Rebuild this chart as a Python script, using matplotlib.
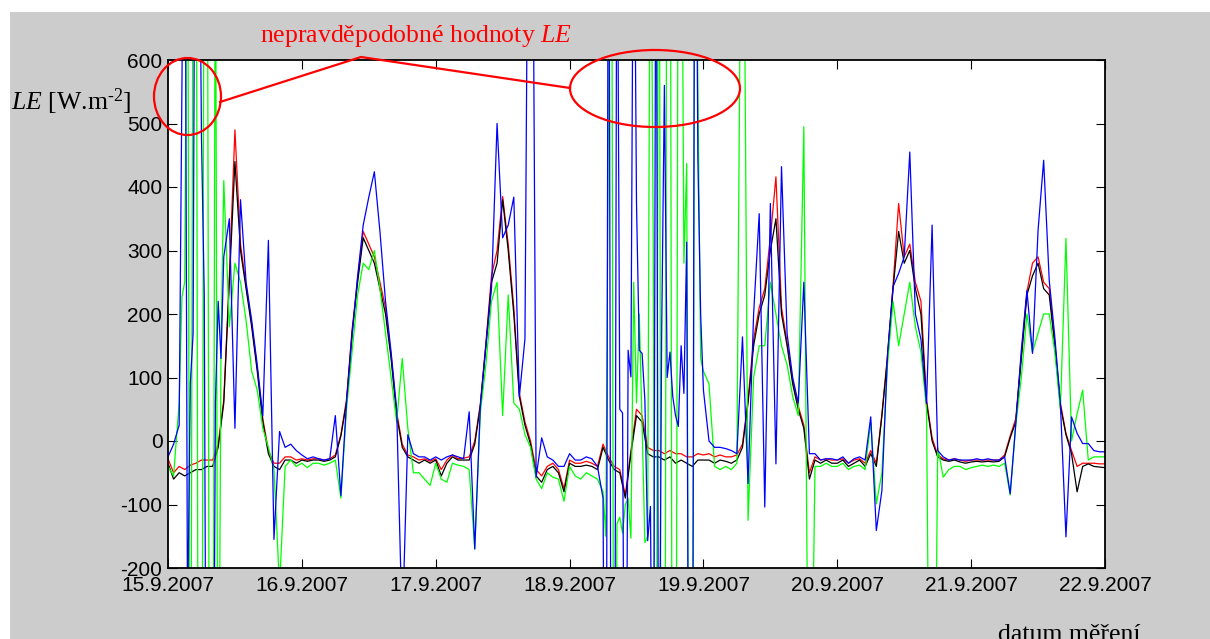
import numpy as np
import matplotlib
matplotlib.use("Agg")
import matplotlib.pyplot as plt
from matplotlib.patches import Ellipse, Rectangle

plt.rcParams['mathtext.fontset'] = 'custom'
plt.rcParams['mathtext.rm'] = 'Liberation Serif'
plt.rcParams['mathtext.it'] = 'Liberation Serif:italic'
plt.rcParams['axes.unicode_minus'] = False

# hours since 15.9.2007 00:00, one value per hour
hours = np.arange(0, 169)
day_ticks = [0, 24, 48, 72, 96, 120, 144, 168]
day_labels = ["15.9.2007", "16.9.2007", "17.9.2007", "18.9.2007",
              "19.9.2007", "20.9.2007", "21.9.2007", "22.9.2007"]

le_black = [
    -35, -60, -50, -55, -50, -45, -45, -40, -40, -10, 60, 250, 440, 300, 240, 180, 110, 30, -20, -40, -45, -30, -30, -35,
    -30, -32, -30, -30, -32, -30, -25, 8, 60, 170, 250, 320, 300, 280, 240, 200, 130, 40, -10, -25, -30, -35, -30, -35,
    -30, -55, -35, -25, -30, -30, -30, -5, 55, 150, 250, 280, 380, 300, 200, 70, 25, -5, -55, -65, -45, -40, -50, -80,
    -35, -40, -40, -38, -40, -45, -10, -30, -45, -50, -90, -20, 40, 30, -20, -25, -25, -30, -25, -35, -30, -35, -40, -30,
    -30, -30, -35, -30, -32, -35, -30, -10, 60, 150, 200, 230, 300, 350, 200, 150, 90, 50, 20, -60, -30, -35, -30, -35,
    -35, -30, -40, -35, -30, -40, -20, -40, 40, 130, 240, 330, 280, 300, 240, 200, 60, 0, -25, -30, -32, -30, -33, -35,
    -33, -32, -33, -32, -33, -32, -25, 5, 30, 130, 230, 260, 280, 240, 230, 150, 55, 10, -20, -80, -40, -36, -40, -41,
    -42]

le_red = [
    -28, -50, -40, -45, -38, -35, -30, -30, -30, -5, 65, 260, 490, 310, 245, 185, 115, 35, -15, -35, -35, -25, -25, -30,
    -28, -30, -28, -28, -30, -28, -22, 10, 65, 175, 255, 330, 310, 290, 250, 210, 135, 45, -5, -22, -25, -30, -28, -32,
    -28, -45, -30, -22, -28, -27, -25, 0, 58, 155, 260, 300, 385, 310, 210, 75, 30, 0, -45, -55, -40, -35, -45, -75,
    -30, -35, -35, -32, -35, -40, -5, -25, -40, -45, -85, -15, 50, 40, -10, -15, -15, -20, -15, -20, -20, -25, -25, -20,
    -22, -20, -25, -22, -25, -25, -22, -5, 65, 160, 210, 240, 320, 416, 210, 155, 95, 55, 25, -50, -25, -30, -28, -30,
    -30, -28, -35, -30, -28, -35, -15, -35, 42, 135, 245, 374, 290, 310, 250, 220, 65, 5, -22, -28, -30, -28, -30, -32,
    -30, -30, -30, -30, -30, -30, -22, 8, 35, 135, 235, 280, 290, 250, 240, 155, 60, 12, -15, -40, -35, -35, -35, -36,
    -36]

le_green = [
    -40, -55, 60, 250, -850, 1200, -900, 1100, -800, -700, 410, 180, 280, 250, 190, 110, 80, 20, -10, -45, -230, -40, -30, -40,
    -35, -42, -35, -35, -38, -35, -30, -90, 50, 140, 230, 280, 270, 300, 240, 170, 100, 30, 130, 20, -50, -50, -60, -70,
    -35, -60, -65, -35, -38, -40, -45, -170, 45, 120, 220, 250, 40, 230, 60, 50, 10, -10, -60, -75, -50, -57, -60, -95,
    -40, -55, -60, -50, -55, -60, -80, 537, -900, -120, -100, -153, 60, 27, -150, 313, 1300, -1000, 1200, -900, 1100, 437, -800, 566,
    110, 90, -40, -45, -40, -45, -35, 1200, -125, 100, 150, 150, 250, 200, 150, 120, 70, 40, 495, -700, -40, -40, -35, -40,
    -40, -35, -45, -40, -38, -45, 30, -99, -50, 120, 220, 150, 200, 250, 180, 140, 50, -1000, -10, -57, -45, -40, -40, -45,
    -42, -40, -38, -40, -38, -40, -35, -85, 25, 100, 200, 140, 170, 200, 200, 140, 50, 319, 0, 43, 80, -30, -25, -25,
    -25]

le_blue = [
    -25, -5, 25, 1100, 90, 1300, 480, -900, -800, 220, 290, 350, 20, 380, 250, 190, 120, 40, 316, -155, 15, -10, -5, -15,
    -22, -28, -25, -28, -30, -28, 40, -86, 60, 165, 260, 340, 384, 424, 330, 220, 140, 50, -300, 10, -20, -25, -25, -30,
    -25, -30, -25, -22, -25, -28, 46, -170, 55, 150, 240, 500, 320, 340, 384, 70, 161, 1500, -57, 5, -25, -30, -40, -40,
    -20, -30, -30, -25, -28, -40, -90, 1200, -900, 50, -800, 101, 374, 138, -157, -700, -600, 560, 140, 40, 150, 313, -700, 447,
    80, 0, -10, -10, -12, -15, -20, 164, -67, 200, 358, -104, 374, -36, 432, 169, 100, 60, 250, -20, -20, -30, -28, -28,
    -30, -25, -35, -28, -25, -30, 38, -141, -78, 135, 243, 264, 290, 455, 200, 160, 59, 340, -15, -25, -30, -28, -30, -30,
    -30, -28, -30, -28, -30, -30, -25, -83, 27, 143, 237, 138, 332, 442, 253, 164, 59, -151, 38, 12, -4, -4, -15, -17,
    -17]

# extra half-hour samples where green and blue jump around (15.9 morning, 18.9)
green_extra_t = [2.5, 3.5, 4.5, 5.5, 6.5, 7.5, 8.5, 9.5,
                 78.5, 79.5, 80.5, 81.5, 82.5, 83.5, 84.5, 85.5, 86.5,
                 87.5, 88.5, 89.5, 90.5, 91.5, 92.5, 93.5, 94.5, 95.5]
green_extra_v = [227, 1000, 900, -900, 1000, -850, 900, 150,
                 -150, 1100, -130, -145, -90, 250, 200, -160, 1000,
                 -900, -900, 1200, -1000, 1000, 280, -900, 1100, 130]
blue_extra_t = [3.5, 4.5, 5.5, 6.5, 7.5, 8.5, 9.5,
                78.5, 79.5, 80.5, 81.5, 82.5, 83.5, 84.5, 85.5, 86.5,
                87.5, 88.5, 89.5, 90.5, 91.5, 92.5, 93.5, 94.5, 95.5]
blue_extra_v = [-300, 169, 1000, 230, -900, 60, 130,
                -900, -800, 1000, 44, 143, 1000, 143, 65, -103,
                1000, 159, 100, 70, 23, 75, -900, 1200, 200]


def merged(t_main, v_main, t_extra, v_extra):
    t = np.concatenate([t_main, t_extra])
    v = np.concatenate([v_main, v_extra])
    order = np.argsort(t, kind='stable')
    return t[order], v[order]


W, H = 1210, 639
fig = plt.figure(figsize=(W / 100, H / 100), dpi=100)
fig.patch.set_facecolor('#cccccc')
# white margin on top and left
fig.patches.append(Rectangle((0, 1 - 12 / H), 1, 12 / H, transform=fig.transFigure,
                             facecolor='white', edgecolor='none', zorder=-1))
fig.patches.append(Rectangle((0, 0), 10 / W, 1, transform=fig.transFigure,
                             facecolor='white', edgecolor='none', zorder=-1))

ax = fig.add_axes([168 / W, 1 - 568 / H, (1105 - 168) / W, (568 - 60) / H])
ax.set_facecolor('white')

tg, vg = merged(hours, le_green, green_extra_t, green_extra_v)
tb, vb = merged(hours, le_blue, blue_extra_t, blue_extra_v)

ax.plot(hours, le_red, color=(1, 0, 0), lw=0.9)
ax.plot(hours, le_black, color='black', lw=0.9)
ax.plot(tg, vg, color=(0, 1, 0), lw=0.9)
ax.plot(tb, vb, color=(0, 0, 1), lw=0.9)

ax.set_xlim(0, 168)
ax.set_ylim(-200, 600)
ax.set_xticks(day_ticks)
ax.set_xticklabels(day_labels)
ax.set_yticks(range(-200, 601, 100))
ax.tick_params(direction='in', length=6.5, width=0.8, top=True, right=True,
               labelsize=15)
ax.tick_params(axis='x', pad=6)
ax.tick_params(axis='y', pad=4)
for lab in ax.get_xticklabels() + ax.get_yticklabels():
    lab.set_fontfamily('Liberation Sans')
for sp in ax.spines.values():
    sp.set_linewidth(1.3)

# overlay in pixel coordinates for the annotations
ov = fig.add_axes([0, 0, 1, 1], facecolor='none')
ov.set_xlim(0, W)
ov.set_ylim(H, 0)
ov.axis('off')

ov.add_patch(Ellipse((187.5, 96.5), 67, 77, fill=False, edgecolor='red', lw=1.6))
ov.add_patch(Ellipse((655, 88.5), 170, 77, fill=False, edgecolor='red', lw=1.6))
ov.plot([220, 361, 570], [102, 57, 88], color='red', lw=1.6)

ov.text(260, 42, r"nepravděpodobné hodnoty $\mathit{LE}$", color='red',
        fontsize=18.5, fontfamily='Liberation Serif', va='baseline', ha='left')
ov.text(11, 110, r"$\mathit{LE}$ [W.m$^{\text{-2}}$]", color='black',
        fontsize=18.5, fontfamily='Liberation Serif', va='baseline', ha='left')
ov.text(998, 641, "datum měření", color='black',
        fontsize=18.5, fontfamily='Liberation Serif', va='baseline', ha='left')

fig.savefig("out.png", dpi=100, facecolor=fig.get_facecolor())
